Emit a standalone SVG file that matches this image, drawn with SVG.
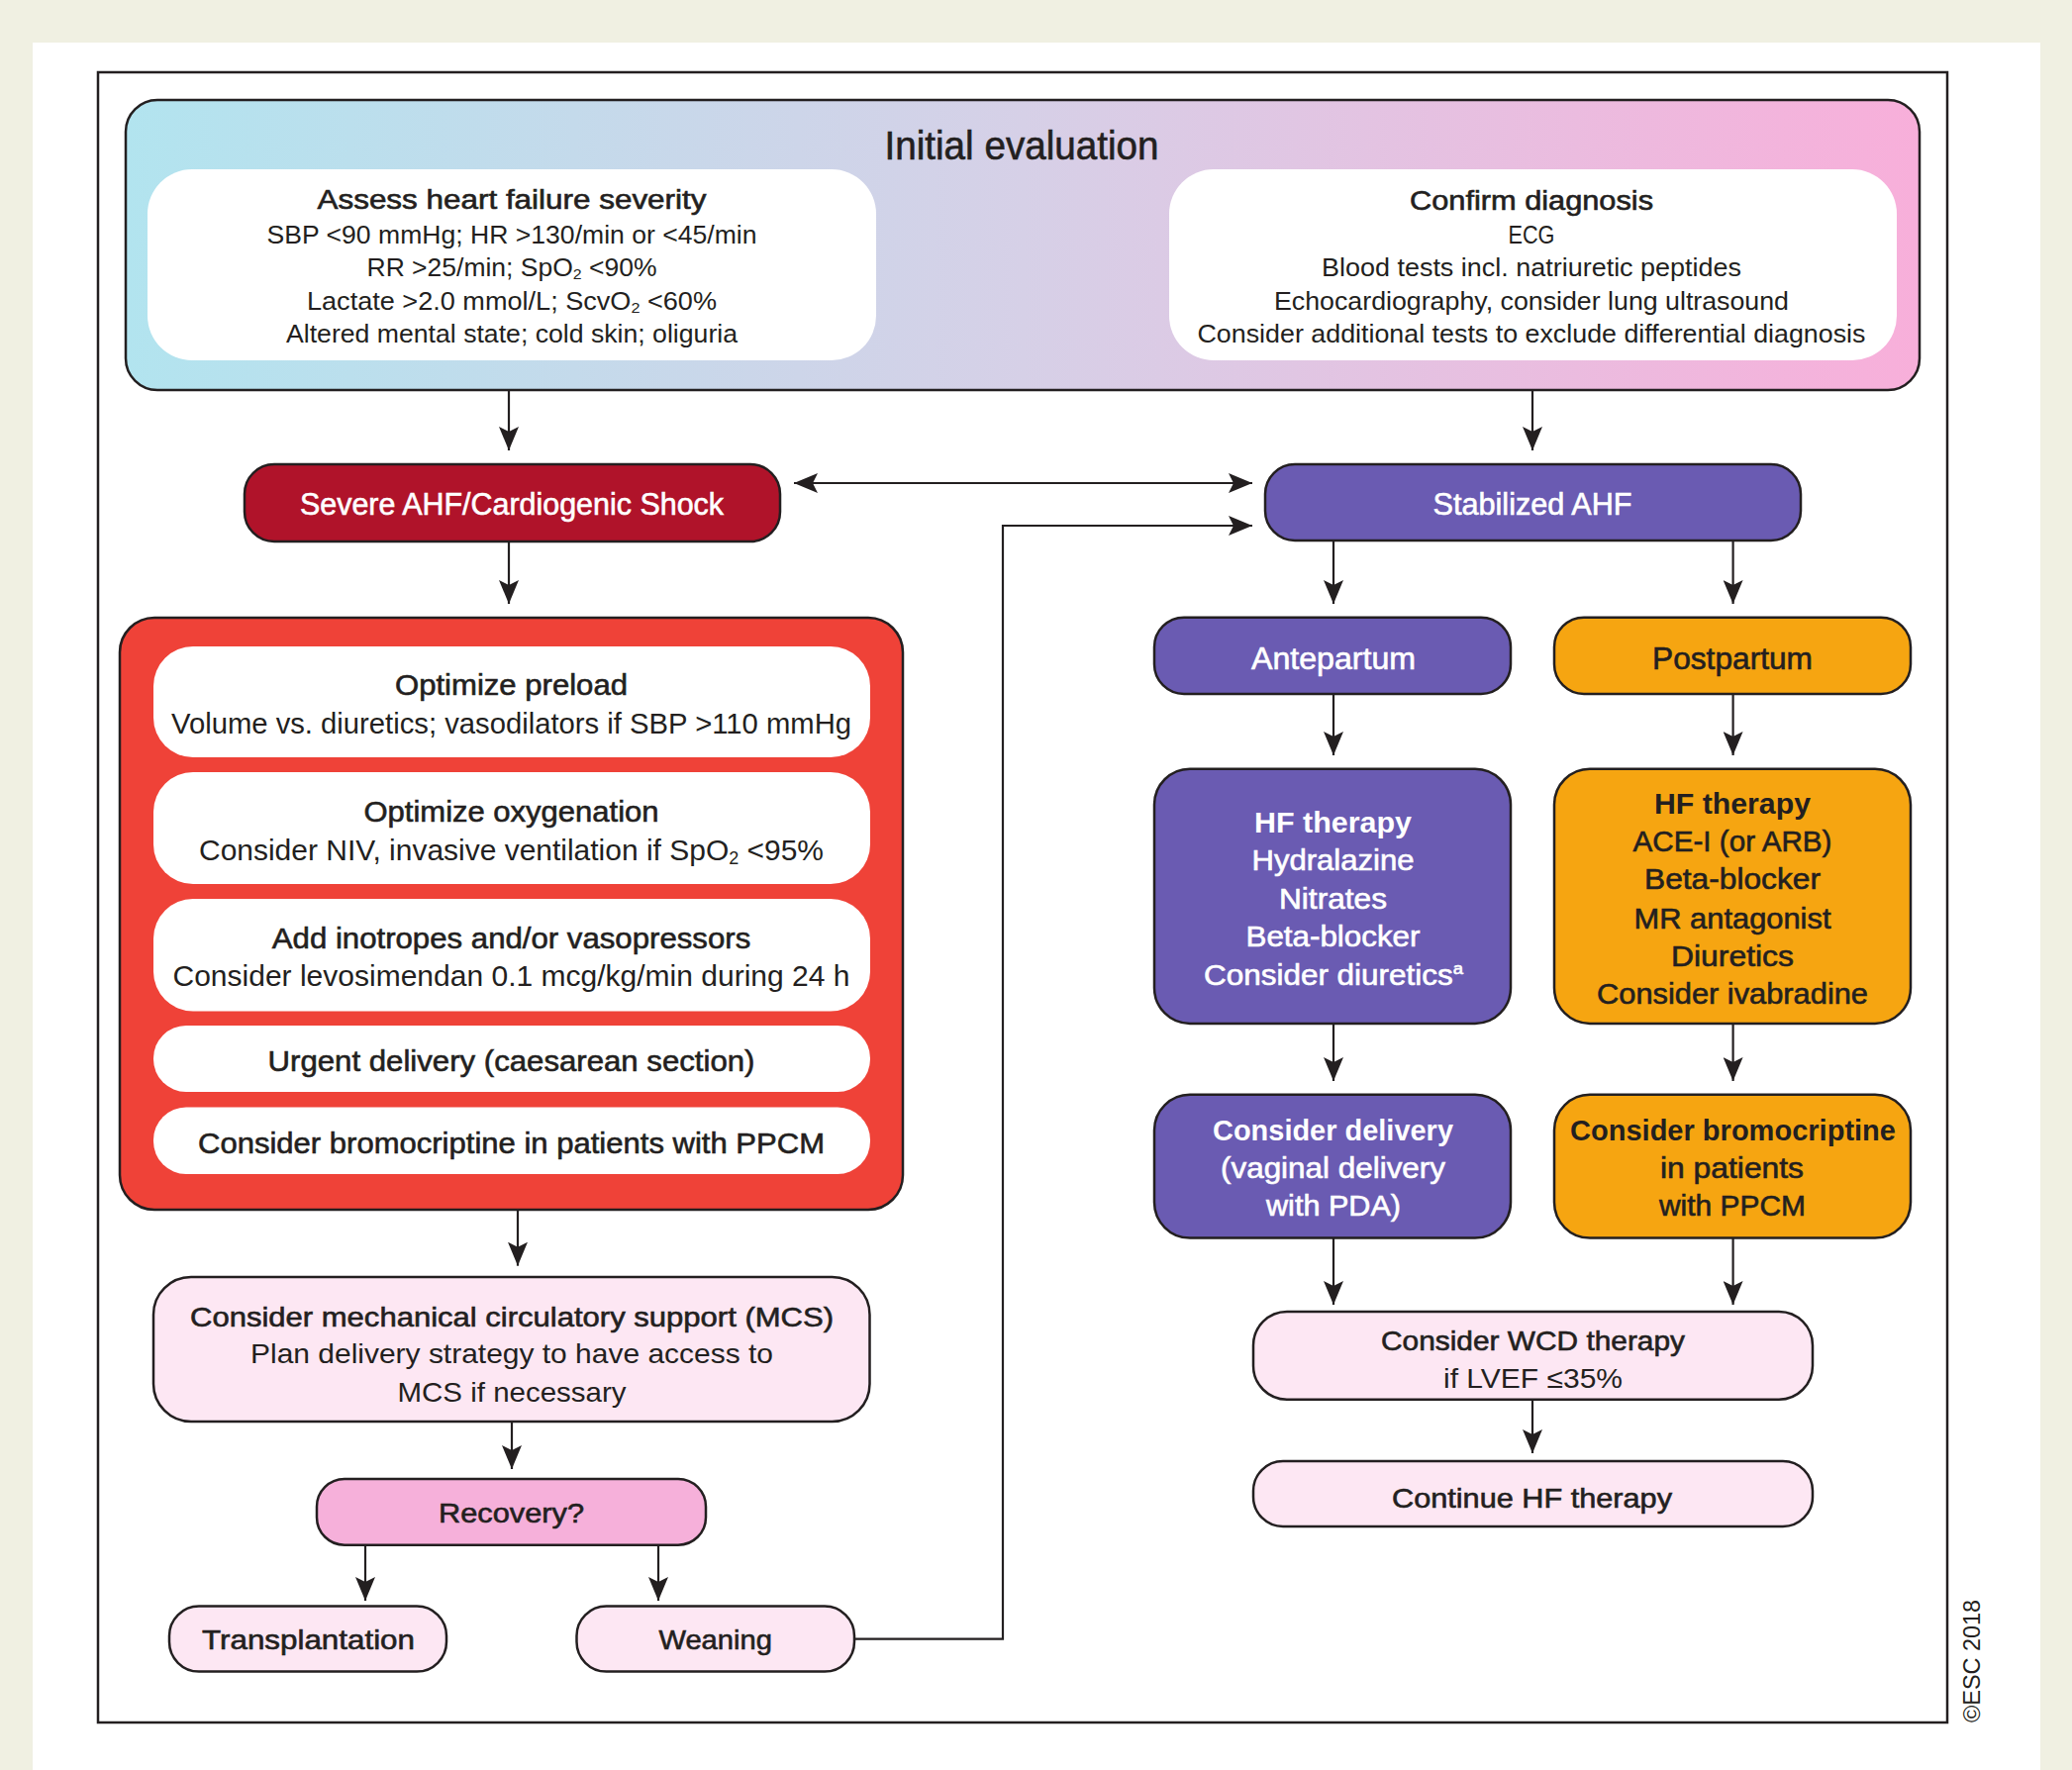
<svg xmlns="http://www.w3.org/2000/svg" width="2093" height="1788" viewBox="0 0 2093 1788">
<style>
.t{font-family:"Liberation Sans Narrow","Liberation Sans",Arial,sans-serif;text-anchor:middle;fill:#231f20}
.w{fill:#ffffff}
.b{font-weight:700}
.m{stroke:#231f20;stroke-width:0.6}
.mw{stroke:#ffffff;stroke-width:0.6}
.node{stroke:#231f20;stroke-width:2.5}
.conn{fill:none;stroke:#231f20;stroke-width:2.2}
</style>
<defs>
<linearGradient id="gEval" x1="0" y1="0" x2="1" y2="0">
<stop offset="0" stop-color="#b2e4ef"/>
<stop offset="0.5" stop-color="#d6d0e7"/>
<stop offset="1" stop-color="#f8afda"/>
</linearGradient>
<marker id="ah" viewBox="0 0 24 20" refX="24" refY="10" markerWidth="24" markerHeight="20" markerUnits="userSpaceOnUse" orient="auto-start-reverse">
<path d="M0,0 L24,10 L0,20 L5,10 Z" fill="#231f20"/>
</marker>
</defs>
<rect x="0" y="0" width="2093" height="1788" fill="#f0f0e2"/>
<rect x="33" y="43" width="2028" height="1745" fill="#ffffff"/>
<rect x="99" y="73" width="1868" height="1667" fill="none" stroke="#231f20" stroke-width="2.5"/>

<g id="initial-evaluation">
<rect class="node" x="127" y="101" width="1812" height="293" rx="32" fill="url(#gEval)"/>
<text class="t m" x="1032" y="161" font-size="40" textLength="277" lengthAdjust="spacingAndGlyphs">Initial evaluation</text>
</g>
<g id="assess-severity">
<rect x="149" y="171" width="736" height="193" rx="45" fill="#ffffff"/>
<text class="t m" x="517" y="211" font-size="27" textLength="393" lengthAdjust="spacingAndGlyphs">Assess heart failure severity</text>
<text class="t" x="517" y="246" font-size="25" textLength="495" lengthAdjust="spacingAndGlyphs">SBP &lt;90 mmHg; HR &gt;130/min or &lt;45/min</text>
<text class="t" x="517" y="279" font-size="25" textLength="293" lengthAdjust="spacingAndGlyphs">RR &gt;25/min; SpO<tspan font-size="15" baseline-shift="-3">2</tspan> &lt;90%</text>
<text class="t" x="517" y="313" font-size="25" textLength="414" lengthAdjust="spacingAndGlyphs">Lactate &gt;2.0 mmol/L; ScvO<tspan font-size="15" baseline-shift="-3">2</tspan> &lt;60%</text>
<text class="t" x="517" y="346" font-size="25" textLength="456" lengthAdjust="spacingAndGlyphs">Altered mental state; cold skin; oliguria</text>
</g>
<g id="confirm-diagnosis">
<rect x="1181" y="171" width="735" height="193" rx="45" fill="#ffffff"/>
<text class="t m" x="1547" y="212" font-size="27" textLength="246" lengthAdjust="spacingAndGlyphs">Confirm diagnosis</text>
<text class="t" x="1547" y="246" font-size="25" textLength="47" lengthAdjust="spacingAndGlyphs">ECG</text>
<text class="t" x="1547" y="279" font-size="25" textLength="424" lengthAdjust="spacingAndGlyphs">Blood tests incl. natriuretic peptides</text>
<text class="t" x="1547" y="313" font-size="25" textLength="520" lengthAdjust="spacingAndGlyphs">Echocardiography, consider lung ultrasound</text>
<text class="t" x="1547" y="346" font-size="25" textLength="675" lengthAdjust="spacingAndGlyphs">Consider additional tests to exclude differential diagnosis</text>
</g>

<g id="severe-ahf">
<rect class="node" x="247" y="469" width="541" height="78" rx="30" fill="#b0132a"/>
<text class="t w mw" x="517" y="520" font-size="31" textLength="428" lengthAdjust="spacingAndGlyphs">Severe AHF/Cardiogenic Shock</text>
</g>
<g id="stabilized-ahf">
<rect class="node" x="1278" y="469" width="541" height="77" rx="30" fill="#6a5bb2"/>
<text class="t w mw" x="1548" y="520" font-size="31" textLength="201" lengthAdjust="spacingAndGlyphs">Stabilized AHF</text>
</g>

<g id="shock-management">
<rect class="node" x="121" y="624" width="791" height="598" rx="35" fill="#ef4238"/>
<rect x="155" y="653" width="724" height="112" rx="40" fill="#ffffff"/>
<text class="t m" x="516.5" y="701.7" font-size="30" textLength="235" lengthAdjust="spacingAndGlyphs">Optimize preload</text>
<text class="t" x="516.5" y="741" font-size="30" textLength="687" lengthAdjust="spacingAndGlyphs">Volume vs. diuretics; vasodilators if SBP &gt;110 mmHg</text>
<rect x="155" y="780" width="724" height="113" rx="40" fill="#ffffff"/>
<text class="t m" x="516.5" y="830" font-size="30" textLength="298" lengthAdjust="spacingAndGlyphs">Optimize oxygenation</text>
<text class="t" x="516.5" y="868.6" font-size="30" textLength="631" lengthAdjust="spacingAndGlyphs">Consider NIV, invasive ventilation if SpO<tspan font-size="18" baseline-shift="-4">2</tspan> &lt;95%</text>
<rect x="155" y="908" width="724" height="113.5" rx="40" fill="#ffffff"/>
<text class="t m" x="516.5" y="958" font-size="30" textLength="483.5" lengthAdjust="spacingAndGlyphs">Add inotropes and/or vasopressors</text>
<text class="t" x="516.5" y="996" font-size="30" textLength="684" lengthAdjust="spacingAndGlyphs">Consider levosimendan 0.1 mcg/kg/min during 24 h</text>
<rect x="155" y="1036" width="724" height="67" rx="33" fill="#ffffff"/>
<text class="t m" x="516.5" y="1082" font-size="30" textLength="492" lengthAdjust="spacingAndGlyphs">Urgent delivery (caesarean section)</text>
<rect x="155" y="1118.5" width="724" height="67.5" rx="33" fill="#ffffff"/>
<text class="t m" x="516.5" y="1164.5" font-size="30" textLength="633" lengthAdjust="spacingAndGlyphs">Consider bromocriptine in patients with PPCM</text>
</g>

<g id="mcs">
<rect class="node" x="155" y="1290" width="723.5" height="146" rx="38" fill="#fde7f3"/>
<text class="t m" x="517" y="1339.5" font-size="28" textLength="650" lengthAdjust="spacingAndGlyphs">Consider mechanical circulatory support (MCS)</text>
<text class="t" x="517" y="1377" font-size="28" textLength="528" lengthAdjust="spacingAndGlyphs">Plan delivery strategy to have access to</text>
<text class="t" x="517" y="1415.6" font-size="28" textLength="231" lengthAdjust="spacingAndGlyphs">MCS if necessary</text>
</g>
<g id="recovery">
<rect class="node" x="320" y="1494" width="393" height="66.7" rx="28" fill="#f6b0da"/>
<text class="t m" x="516.5" y="1537.5" font-size="28" textLength="147" lengthAdjust="spacingAndGlyphs">Recovery?</text>
</g>
<g id="transplantation">
<rect class="node" x="171" y="1622.6" width="280" height="66" rx="30" fill="#fde7f3"/>
<text class="t m" x="311.5" y="1666" font-size="28" textLength="215" lengthAdjust="spacingAndGlyphs">Transplantation</text>
</g>
<g id="weaning">
<rect class="node" x="582.5" y="1622.6" width="280.5" height="66" rx="30" fill="#fde7f3"/>
<text class="t m" x="722.7" y="1666" font-size="28" textLength="114.5" lengthAdjust="spacingAndGlyphs">Weaning</text>
</g>

<g id="antepartum">
<rect class="node" x="1166" y="623.7" width="360" height="77.3" rx="30" fill="#6a5bb2"/>
<text class="t w mw" x="1347" y="675.7" font-size="31" textLength="166" lengthAdjust="spacingAndGlyphs">Antepartum</text>
</g>
<g id="postpartum">
<rect class="node" x="1570" y="623.7" width="360" height="77.3" rx="30" fill="#f6a511"/>
<text class="t m" x="1750" y="675.7" font-size="31" textLength="162" lengthAdjust="spacingAndGlyphs">Postpartum</text>
</g>
<g id="hf-therapy-antepartum">
<rect class="node" x="1166" y="776.7" width="360" height="257.3" rx="36" fill="#6a5bb2"/>
<text class="t w b" x="1346.5" y="840.5" font-size="29" textLength="159" lengthAdjust="spacingAndGlyphs">HF therapy</text>
<text class="t w mw" x="1346.5" y="879" font-size="29" textLength="164" lengthAdjust="spacingAndGlyphs">Hydralazine</text>
<text class="t w mw" x="1346.5" y="918" font-size="29" textLength="109" lengthAdjust="spacingAndGlyphs">Nitrates</text>
<text class="t w mw" x="1346.5" y="956" font-size="29" textLength="176" lengthAdjust="spacingAndGlyphs">Beta-blocker</text>
<text class="t w mw" x="1347" y="994.6" font-size="29" textLength="262" lengthAdjust="spacingAndGlyphs">Consider diuretics<tspan font-size="17" baseline-shift="11">a</tspan></text>
</g>
<g id="hf-therapy-postpartum">
<rect class="node" x="1570" y="776.7" width="360" height="257.3" rx="36" fill="#f6a511"/>
<text class="t b" x="1750" y="821.6" font-size="29" textLength="158" lengthAdjust="spacingAndGlyphs">HF therapy</text>
<text class="t m" x="1750" y="860" font-size="29" textLength="201" lengthAdjust="spacingAndGlyphs">ACE-I (or ARB)</text>
<text class="t m" x="1750" y="898" font-size="29" textLength="178" lengthAdjust="spacingAndGlyphs">Beta-blocker</text>
<text class="t m" x="1750" y="937.5" font-size="29" textLength="199" lengthAdjust="spacingAndGlyphs">MR antagonist</text>
<text class="t m" x="1750" y="975.7" font-size="29" textLength="124" lengthAdjust="spacingAndGlyphs">Diuretics</text>
<text class="t m" x="1750" y="1014" font-size="29" textLength="274" lengthAdjust="spacingAndGlyphs">Consider ivabradine</text>
</g>
<g id="consider-delivery">
<rect class="node" x="1166" y="1105.8" width="360" height="144.8" rx="36" fill="#6a5bb2"/>
<text class="t w b" x="1346.5" y="1151.7" font-size="29" textLength="243" lengthAdjust="spacingAndGlyphs">Consider delivery</text>
<text class="t w mw" x="1346.5" y="1190" font-size="29" textLength="227" lengthAdjust="spacingAndGlyphs">(vaginal delivery</text>
<text class="t w mw" x="1347" y="1228" font-size="29" textLength="136" lengthAdjust="spacingAndGlyphs">with PDA)</text>
</g>
<g id="consider-bromocriptine">
<rect class="node" x="1570" y="1105.8" width="360" height="144.8" rx="36" fill="#f6a511"/>
<text class="t b" x="1750.5" y="1151.7" font-size="29" textLength="329" lengthAdjust="spacingAndGlyphs">Consider bromocriptine</text>
<text class="t m" x="1749.5" y="1190" font-size="29" textLength="145" lengthAdjust="spacingAndGlyphs">in patients</text>
<text class="t m" x="1750" y="1228" font-size="29" textLength="148" lengthAdjust="spacingAndGlyphs">with PPCM</text>
</g>
<g id="wcd-therapy">
<rect class="node" x="1266" y="1325" width="565" height="88.7" rx="34" fill="#fde7f3"/>
<text class="t m" x="1548.5" y="1364" font-size="28" textLength="307" lengthAdjust="spacingAndGlyphs">Consider WCD therapy</text>
<text class="t" x="1548.5" y="1401.7" font-size="28" textLength="181" lengthAdjust="spacingAndGlyphs">if LVEF ≤35%</text>
</g>
<g id="continue-hf-therapy">
<rect class="node" x="1266" y="1476" width="565" height="66" rx="30" fill="#fde7f3"/>
<text class="t m" x="1547.5" y="1522.5" font-size="28" textLength="283" lengthAdjust="spacingAndGlyphs">Continue HF therapy</text>
</g>

<g id="connectors">
<path class="conn" d="M514,394 V455" marker-end="url(#ah)"/>
<path class="conn" d="M1548,394 V455" marker-end="url(#ah)"/>
<path class="conn" d="M802,488 H1265" marker-start="url(#ah)" marker-end="url(#ah)"/>
<path class="conn" d="M863,1655.6 H1013 V531 H1265" marker-end="url(#ah)"/>
<path class="conn" d="M514,547 V610" marker-end="url(#ah)"/>
<path class="conn" d="M1347,546 V610" marker-end="url(#ah)"/>
<path class="conn" d="M1750.6,546 V610" marker-end="url(#ah)"/>
<path class="conn" d="M1347,701 V763" marker-end="url(#ah)"/>
<path class="conn" d="M1750.6,701 V763" marker-end="url(#ah)"/>
<path class="conn" d="M1347,1034 V1092" marker-end="url(#ah)"/>
<path class="conn" d="M1750.6,1034 V1092" marker-end="url(#ah)"/>
<path class="conn" d="M1347,1250.6 V1318" marker-end="url(#ah)"/>
<path class="conn" d="M1750.6,1250.6 V1318" marker-end="url(#ah)"/>
<path class="conn" d="M1548,1413.7 V1468" marker-end="url(#ah)"/>
<path class="conn" d="M523,1222 V1278.7" marker-end="url(#ah)"/>
<path class="conn" d="M517,1436 V1484" marker-end="url(#ah)"/>
<path class="conn" d="M369,1560.7 V1617" marker-end="url(#ah)"/>
<path class="conn" d="M665,1560.7 V1617" marker-end="url(#ah)"/>
</g>

<text class="t" transform="translate(2000,1678) rotate(-90)" font-size="23" textLength="124" lengthAdjust="spacingAndGlyphs">©ESC 2018</text>
</svg>
